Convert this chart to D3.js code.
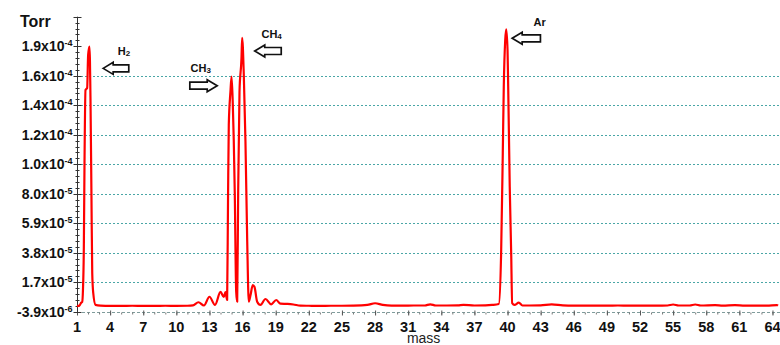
<!DOCTYPE html>
<html>
<head>
<meta charset="utf-8">
<script src="https://cdn.jsdelivr.net/npm/d3@7"></script>
<style>
  body { margin: 0; background: #fff; }
  svg { display: block; font-family: Arial, "Liberation Sans", sans-serif; }
</style>
</head>
<body>
<script>
// mass spectrum, pressure in units of 1e-6 Torr
var mass = [1.00, 1.23, 1.36, 1.47, 1.54, 1.62, 1.68, 1.77, 1.92, 2.01, 2.13, 2.22, 2.31, 2.38, 2.47, 2.68, 3.13,
  4, 5, 6, 7, 8, 9, 10, 11, 11.5, 12, 12.5, 13, 13.5, 14, 14.3, 14.45, 14.6, 14.68, 14.75, 14.9, 15.0, 15.11,
  15.2, 15.29, 15.42, 15.51, 15.6, 15.72, 15.9, 15.96, 16.11, 16.26, 16.42, 16.56, 16.72, 16.92, 17.08, 17.32,
  17.62, 18.07, 18.59, 19.04, 19.43, 20.07, 20.6, 21.24, 22, 23, 24, 25, 26, 27.3, 28, 28.7, 29.5, 30.5, 31.5,
  32.5, 33, 33.5, 34.5, 35.5, 36, 37, 38, 38.6, 39.21, 39.42, 39.57, 39.66, 39.79, 39.88, 40.0, 40.06, 40.2,
  40.33, 40.42, 40.63, 41.02, 41.35, 42, 43, 44, 45, 46, 47, 48, 49, 50, 51, 52, 53, 54, 54.5, 55, 55.5, 56.5,
  57, 57.5, 58.8, 59.5, 60.6, 61.5, 62.5, 63.5, 64.4, 64.5];
var pressure = [0.1, 0.5, 2.3, 3.0, 11.5, 42.1, 101.5, 153.2, 154.6, 178.0, 184.0, 148.2, 77.4, 23.5, 9.4, 0.9, 0.4,
  0.2, 0.2, 0.3, 0.2, 0.2, 0.3, 0.2, 0.3, 0.6, 2.8, 0.5, 6.7, 0.9, 10.1, 6.5, 10.0, 4.4, 75.2, 128.4, 152.0, 162.6, 144.0,
  117.7, 81.1, 10.3, 3.2, 80.9, 152.0, 175.8, 190.2, 163.8, 116.5, 45.7, 3.2, 7.9, 15.0, 13.6, 3.2,
  0.9, 5.1, 1.3, 4.4, 1.8, 1.6, 1.2, 0.4, 0.3, 0.2, 0.3, 0.3, 0.4, 0.9, 2.1, 0.9, 0.4, 0.4, 0.5,
  0.5, 1.3, 0.5, 0.5, 0.6, 1.0, 0.5, 0.6, 0.9, 1.6, 37.7, 108.5, 155.5, 188.6, 196.2, 181.5, 155.5, 84.7,
  37.7, 2.1, 0.9, 2.5, 0.5, 0.5, 0.6, 1.3, 0.6, 0.4, 0.4, 0.4, 0.4, 0.5, 0.4, 0.4, 0.4, 0.4, 0.5, 1.2, 0.5, 0.5,
  1.2, 0.5, 0.8, 0.4, 0.8, 0.4, 0.4, 0.4, 0.8, 0.4];

var xTicks = [1, 4, 7, 10, 13, 16, 19, 22, 25, 28, 31, 34, 37, 40, 43, 46, 49, 52, 55, 58, 61, 64];
var yTicks = [-3.9, 17.0, 37.9, 58.8, 79.7, 100.6, 121.5, 142.4, 163.3, 184.2];
var yTickMantissa = ["-3.9", "1.7", "3.8", "5.9", "8.0", "1.0", "1.2", "1.4", "1.6", "1.9"];
var yTickExp = ["-6", "-5", "-5", "-5", "-5", "-4", "-4", "-4", "-4", "-4"];

// peak annotations
var annoText = ["H", "CH", "CH", "Ar"];
var annoSub = ["2", "3", "4", ""];
var annoTextMass = [4.70, 11.28, 17.71, 42.35];
var annoTextVal = [178.0, 165.7, 190.2, 198.5];
var arrowTipMass = [3.37, 13.70, 17.10, 40.42];
var arrowTailMass = [5.69, 11.22, 19.50, 42.98];
var arrowVal = [168.5, 156.2, 180.8, 189.8];

var width = 780, height = 345;

var svg = d3.select("body").append("svg")
  .attr("width", width)
  .attr("height", height);

var x = d3.scaleLinear().domain([1, 64.5]).range([77, 778]);
var y = d3.scaleLinear().domain([-3.9, 205.1]).range([311.7, 16.7]);

// grid
svg.append("g")
  .selectAll("line")
  .data(yTicks.slice(1, 9))
  .enter().append("line")
  .attr("x1", x(1)).attr("x2", width)
  .attr("y1", function(d) { return Math.round(y(d)) + 0.5; })
  .attr("y2", function(d) { return Math.round(y(d)) + 0.5; })
  .style("stroke", "#4aa6a6")
  .style("stroke-dasharray", "2,2");

// x axis (dashed base line + unit ticks)
var xAxisY = Math.round(y(-3.9)) + 0.5;
svg.append("line")
  .attr("x1", x(1)).attr("x2", width)
  .attr("y1", xAxisY).attr("y2", xAxisY)
  .style("stroke", "#7f9c9c")
  .style("stroke-dasharray", "3,2");

var xAxisG = svg.append("g").attr("transform", "translate(0," + xAxisY + ")");
xAxisG.call(d3.axisBottom(x).tickValues(d3.range(1, 65)).tickSize(2).tickFormat(""));
xAxisG.select(".domain").remove();
xAxisG.selectAll("line").style("stroke", "#777");

var xMajor = svg.append("g").attr("transform", "translate(0," + (xAxisY - 2) + ")");
xMajor.call(d3.axisBottom(x).tickValues(xTicks).tickSize(5).tickFormat(""));
xMajor.select(".domain").remove();
xMajor.selectAll("line").style("stroke", "#555");

svg.append("g")
  .selectAll("text")
  .data(xTicks)
  .enter().append("text")
  .attr("x", function(d) { return x(d); })
  .attr("y", 332)
  .attr("text-anchor", "middle")
  .style("font-size", "14.5px")
  .style("font-weight", "bold")
  .style("fill", "#111")
  .text(function(d) { return d; });

svg.append("text")
  .attr("x", x(32.4))
  .attr("y", 343)
  .attr("text-anchor", "middle")
  .style("font-size", "14px")
  .style("fill", "#222")
  .text("mass");

// y axis
var axisX = Math.round(x(1)) + 0.5;
var minorY = d3.range(0, 51).map(function(i) { return -3.9 + i * 4.18; });
svg.append("line")
  .attr("x1", axisX).attr("x2", axisX)
  .attr("y1", y(205.1)).attr("y2", y(-3.9))
  .style("stroke", "#333");

[-1, 1].forEach(function(s) {
  svg.append("g").selectAll("line")
    .data(minorY)
    .enter().append("line")
    .attr("x1", axisX).attr("x2", axisX + s * 2)
    .attr("y1", function(d) { return Math.round(y(d)) + 0.5; })
    .attr("y2", function(d) { return Math.round(y(d)) + 0.5; })
    .style("stroke", "#333");
});
svg.append("g").selectAll("line")
  .data(yTicks.concat([205.1]))
  .enter().append("line")
  .attr("x1", axisX - 4).attr("x2", axisX + 4)
  .attr("y1", function(d) { return Math.round(y(d)) + 0.5; })
  .attr("y2", function(d) { return Math.round(y(d)) + 0.5; })
  .style("stroke", "#333");

var yLabels = svg.append("g")
  .selectAll("text")
  .data(yTicks)
  .enter().append("text")
  .attr("x", 72.5)
  .attr("y", function(d) { return y(d) + 4.8; })
  .attr("text-anchor", "end")
  .style("font-size", "14px")
  .style("font-weight", "bold")
  .style("fill", "#111");
yLabels.append("tspan").text(function(d, i) { return yTickMantissa[i] + "x10"; });
yLabels.append("tspan")
  .attr("dy", -5)
  .style("font-size", "9px")
  .text(function(d, i) { return yTickExp[i]; });

svg.append("text")
  .attr("x", 20)
  .attr("y", 27)
  .style("font-size", "16px")
  .style("font-weight", "bold")
  .style("fill", "#111")
  .text("Torr");

// spectrum
var line = d3.line()
  .x(function(d, i) { return x(mass[i]); })
  .y(function(d) { return y(d); })
  .curve(d3.curveMonotoneX);

svg.append("path")
  .datum(pressure)
  .attr("d", line)
  .style("fill", "none")
  .style("stroke", "#ff0000")
  .style("stroke-width", 2.2)
  .style("stroke-linejoin", "round");

// arrows
function arrowPath(tx, ty, ex) {
  var dir = ex > tx ? 1 : -1, head = 10, hh = 6, sh = 3.5;
  var hx = tx + dir * head;
  return "M" + tx + "," + ty +
    "L" + hx + "," + (ty - hh) + "L" + hx + "," + (ty - sh) +
    "L" + ex + "," + (ty - sh) + "L" + ex + "," + (ty + sh) +
    "L" + hx + "," + (ty + sh) + "L" + hx + "," + (ty + hh) + "Z";
}

svg.append("g").selectAll("path")
  .data(arrowVal)
  .enter().append("path")
  .attr("d", function(d, i) { return arrowPath(x(arrowTipMass[i]), y(d), x(arrowTailMass[i])); })
  .style("fill", "#fff")
  .style("stroke", "#111")
  .style("stroke-width", 1.7)
  .style("stroke-linejoin", "miter");

var anno = svg.append("g").selectAll("text")
  .data(annoText)
  .enter().append("text")
  .attr("x", function(d, i) { return x(annoTextMass[i]); })
  .attr("y", function(d, i) { return y(annoTextVal[i]); })
  .style("font-size", "11px")
  .style("font-weight", "bold")
  .style("fill", "#111");
anno.append("tspan").text(function(d) { return d; });
anno.append("tspan")
  .attr("dy", 1)
  .style("font-size", "8px")
  .text(function(d, i) { return annoSub[i]; });
</script>
</body>
</html>
